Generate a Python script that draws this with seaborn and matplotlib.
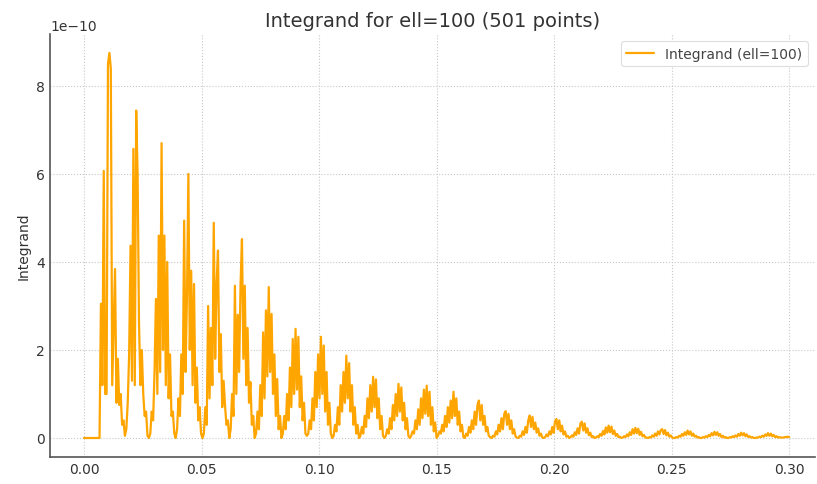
import numpy as np
import pandas as pd
import matplotlib
matplotlib.use("Agg")
import matplotlib.pyplot as plt
import seaborn as sns

# x grid: 501 equally spaced points on [0, 0.3]
r = np.linspace(0.0, 0.3, 501)

# integrand values, in units of 1e-10, lobe by lobe
lead = [0.0] * 12
lobe01 = [3.05, 1.2, 6.07, 1.0, 1.0, 8.5, 8.75, 8.4, 1.2, 2.5, 3.84, 0.8, 1.8, 0.75, 1.0, 0.3, 0.4, 0.05]
lobe02 = [0.2, 0.8, 1.9, 4.37, 1.3, 6.57, 1.2, 7.44, 6.0, 2.6, 1.2, 2.0, 1.0, 0.5, 0.6, 0.05, 0.0]
lobe03 = [0.1, 0.6, 0.4, 1.5, 3.16, 1.0, 4.6, 1.5, 6.7, 2.0, 4.6, 1.2, 4.0, 0.9, 1.9, 0.5, 0.6, 0.1, 0.0]
lobe04 = [0.2, 0.9, 0.5, 1.9, 1.0, 4.94, 1.5, 3.2, 6.0, 2.0, 3.8, 1.2, 3.5, 0.8, 1.6, 0.4, 0.7, 0.1, 0.0]
lobe05 = [0.1, 0.7, 0.3, 3.0, 0.9, 2.5, 1.2, 4.89, 1.8, 3.5, 4.26, 1.5, 2.36, 0.7, 1.3, 0.73, 0.3, 0.4, 0.0]
lobe06 = [0.2, 1.0, 0.5, 3.46, 1.0, 2.8, 1.5, 3.5, 4.52, 1.8, 3.46, 1.2, 2.5, 0.8, 1.27, 0.3, 0.5, 0.0]
lobe07 = [0.1, 0.6, 0.2, 1.2, 0.5, 2.4, 0.9, 2.9, 1.4, 3.43, 1.5, 2.82, 1.0, 1.9, 0.5, 1.34, 0.2, 0.5, 0.0]
lobe08 = [0.1, 0.5, 0.2, 1.0, 0.4, 1.6, 0.7, 2.25, 1.0, 2.48, 1.1, 2.3, 0.7, 1.4, 0.4, 0.8, 0.1, 0.05]
lobe09 = [0.1, 0.4, 0.2, 0.9, 0.4, 1.5, 0.7, 1.9, 0.9, 2.3, 1.0, 2.1, 0.6, 1.5, 0.3, 0.8, 0.1, 0.0]
lobe10 = [0.05, 0.3, 0.15, 0.7, 0.3, 1.2, 0.6, 1.5, 0.8, 1.87, 0.9, 1.7, 0.6, 1.2, 0.3, 0.7, 0.1, 0.3, 0.0]
lobe11 = [0.05, 0.25, 0.1, 0.5, 0.25, 0.9, 0.45, 1.2, 0.6, 1.39, 0.7, 1.33, 0.45, 0.9, 0.2, 0.5, 0.05, 0.0]
lobe12 = [0.05, 0.2, 0.1, 0.45, 0.2, 0.75, 0.4, 1.0, 0.5, 1.23, 0.6, 1.15, 0.4, 0.8, 0.2, 0.45, 0.05, 0.0]
lobe13 = [0.05, 0.15, 0.1, 0.4, 0.2, 0.65, 0.3, 0.9, 0.45, 1.1, 0.55, 1.19, 0.5, 1.05, 0.3, 0.7, 0.15, 0.35, 0.0]
lobe14 = [0.05, 0.15, 0.1, 0.3, 0.15, 0.5, 0.25, 0.7, 0.35, 0.85, 0.45, 1.05, 0.5, 0.9, 0.3, 0.6, 0.15, 0.3, 0.02]
lobe15 = [0.0, 0.1, 0.05, 0.25, 0.12, 0.4, 0.2, 0.6, 0.3, 0.75, 0.85, 0.4, 0.75, 0.3, 0.5, 0.15, 0.25, 0.05, 0.02]
lobe16 = [0.0, 0.05, 0.03, 0.15, 0.08, 0.3, 0.15, 0.45, 0.2, 0.55, 0.61, 0.3, 0.55, 0.2, 0.4, 0.1, 0.2, 0.03, 0.01]
lobe17 = [0.0, 0.05, 0.03, 0.15, 0.07, 0.25, 0.12, 0.4, 0.51, 0.25, 0.48, 0.2, 0.35, 0.12, 0.22, 0.05, 0.1, 0.01, 0.0]
lobe18 = [0.02, 0.08, 0.04, 0.15, 0.08, 0.25, 0.12, 0.38, 0.43, 0.2, 0.4, 0.15, 0.28, 0.08, 0.15, 0.03, 0.05, 0.0]
lobe19 = [0.02, 0.06, 0.03, 0.13, 0.07, 0.22, 0.1, 0.33, 0.37, 0.17, 0.33, 0.12, 0.22, 0.06, 0.12, 0.02, 0.04, 0.0]
lobe20 = [0.01, 0.04, 0.02, 0.09, 0.05, 0.16, 0.08, 0.24, 0.12, 0.28, 0.13, 0.26, 0.09, 0.17, 0.05, 0.09, 0.02, 0.03, 0.0]
lobe21 = [0.01, 0.04, 0.02, 0.08, 0.04, 0.13, 0.07, 0.2, 0.1, 0.23, 0.11, 0.21, 0.07, 0.14, 0.04, 0.07, 0.01, 0.01]
lobe22 = [0.0, 0.02, 0.01, 0.06, 0.03, 0.1, 0.05, 0.15, 0.08, 0.18, 0.2, 0.09, 0.18, 0.06, 0.12, 0.03, 0.06, 0.01, 0.0]
lobe23 = [0.0, 0.02, 0.01, 0.05, 0.03, 0.09, 0.05, 0.13, 0.07, 0.17, 0.08, 0.15, 0.05, 0.1, 0.03, 0.05, 0.01, 0.02, 0.0]
lobe24 = [0.0, 0.02, 0.01, 0.04, 0.02, 0.07, 0.04, 0.11, 0.06, 0.14, 0.07, 0.13, 0.05, 0.09, 0.02, 0.05, 0.01, 0.02, 0.0]
lobe25 = [0.0, 0.02, 0.01, 0.04, 0.02, 0.06, 0.03, 0.09, 0.05, 0.12, 0.06, 0.11, 0.04, 0.08, 0.02, 0.04, 0.01, 0.02, 0.0]
lobe26 = [0.0, 0.01, 0.01, 0.03, 0.02, 0.05, 0.03, 0.08, 0.05, 0.11, 0.05, 0.1, 0.04, 0.07, 0.02, 0.04, 0.01, 0.02,
          0.01, 0.01, 0.01, 0.02, 0.02, 0.03, 0.02]

lobes = [lead, lobe01, lobe02, lobe03, lobe04, lobe05, lobe06, lobe07, lobe08, lobe09, lobe10,
         lobe11, lobe12, lobe13, lobe14, lobe15, lobe16, lobe17, lobe18, lobe19, lobe20,
         lobe21, lobe22, lobe23, lobe24, lobe25, lobe26]
integrand = np.concatenate([np.array(l, dtype=float) for l in lobes]) * 1e-10

df = pd.DataFrame({"r": r, "integrand": integrand})

sns.set_style("white")
plt.rcParams['font.family'] = ['DejaVu Sans']

fig = plt.figure(figsize=(8.17, 4.85), dpi=100)
ax = fig.add_axes([50 / 817, 27 / 485, 765 / 817, 423 / 485])

sns.lineplot(data=df, x="r", y="integrand", ax=ax, color="#FFA500", linewidth=1.6,
             estimator=None, label="Integrand (ell=100)")

ax.set_xlim(-0.01447, 0.311)
ax.set_ylim(-0.432e-10, 9.18e-10)
ax.set_xticks([0.0, 0.05, 0.10, 0.15, 0.20, 0.25, 0.30])
ax.set_yticks([0, 2e-10, 4e-10, 6e-10, 8e-10])
ax.set_xlabel("")
ax.set_ylabel("Integrand", fontsize=10, color="#333333")
ax.set_title("Integrand for ell=100 (501 points)", fontsize=14, color="#333333")

ax.grid(True, linestyle=":", linewidth=0.8, color="#c8c8c8")
sns.despine(ax=ax)
for s in ["left", "bottom"]:
    ax.spines[s].set_color("#555555")
    ax.spines[s].set_linewidth(1.2)
ax.tick_params(axis="both", direction="in", length=4, width=1, colors="#555555",
               labelsize=10, labelcolor="#333333")
ax.yaxis.get_offset_text().set_fontsize(10)
ax.yaxis.get_offset_text().set_color("#333333")

leg = ax.legend(loc="upper right", fontsize=10, frameon=True, framealpha=1.0)
leg.get_frame().set_edgecolor("#dddddd")
leg.get_frame().set_linewidth(0.8)
for t in leg.get_texts():
    t.set_color("#444444")

fig.savefig("out.png", dpi=100)
